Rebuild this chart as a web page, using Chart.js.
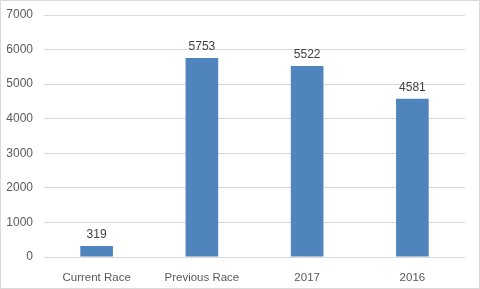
<!DOCTYPE html>
<html>
<head>
<meta charset="utf-8">
<script src="https://cdn.jsdelivr.net/npm/chart.js@4/dist/chart.umd.min.js"></script>
<style>
  html, body { margin: 0; padding: 0; background: #fff; }
  #wrap { width: 480px; height: 289px; position: relative; }
</style>
</head>
<body>
<div id="wrap"><canvas id="bar_chart"></canvas></div>
<script>
var categories = ["Current Race", "Previous Race", "2017", "2016"];
var finishers = [319, 5753, 5522, 4581];
var yTicks = [0, 1000, 2000, 3000, 4000, 5000, 6000, 7000];

var frame = {
    id: 'frame',
    beforeDraw: function (chart) {
        var ctx = chart.ctx;
        ctx.save();
        ctx.fillStyle = '#fff';
        ctx.fillRect(0, 0, chart.width, chart.height);
        ctx.strokeStyle = '#d9d9d9';
        ctx.lineWidth = 1;
        ctx.strokeRect(0.5, 0.5, chart.width - 1, chart.height - 1);
        ctx.restore();
    }
};

var valueLabels = {
    id: 'valueLabels',
    afterDatasetsDraw: function (chart) {
        var ctx = chart.ctx;
        ctx.save();
        ctx.fillStyle = '#404040';
        ctx.font = '12px "Liberation Sans", Arial, sans-serif';
        ctx.textAlign = 'center';
        ctx.textBaseline = 'bottom';
        chart.getDatasetMeta(0).data.forEach(function (bar, i) {
            ctx.fillText(finishers[i], bar.x, bar.y - 5);
        });
        ctx.restore();
    }
};

new Chart(document.getElementById("bar_chart").getContext("2d"), {
    type: 'bar',
    data: {
        labels: categories,
        datasets: [{
            label: "Finishers",
            data: finishers,
            backgroundColor: '#4f84bd',
            barPercentage: 0.31,
            categoryPercentage: 1
        }]
    },
    options: {
        responsive: true,
        maintainAspectRatio: false,
        animation: false,
        layout: { padding: { top: 15, right: 15, left: 0, bottom: 0 } },
        plugins: { legend: { display: false }, tooltip: { enabled: false } },
        scales: {
            x: {
                grid: { display: false },
                border: { display: false },
                ticks: { color: '#595959', font: { family: '"Liberation Sans", Arial, sans-serif', size: 11.5 }, padding: 6 },
                afterFit: function (axis) { axis.height = 32; }
            },
            y: {
                min: 0,
                max: 7000,
                afterBuildTicks: function (axis) {
                    axis.ticks = yTicks.map(function (v) { return { value: v }; });
                },
                grid: { color: '#d9d9d9', drawTicks: false },
                border: { display: false },
                ticks: {
                    color: '#595959',
                    font: { family: '"Liberation Sans", Arial, sans-serif', size: 12 },
                    padding: 11,
                    callback: function (v) { return String(v); }
                },
                afterFit: function (axis) {
                    axis.width = 44;
                    axis.paddingTop = 0;
                    axis.paddingBottom = 0;
                }
            }
        }
    },
    plugins: [frame, valueLabels]
});
</script>
</body>
</html>
